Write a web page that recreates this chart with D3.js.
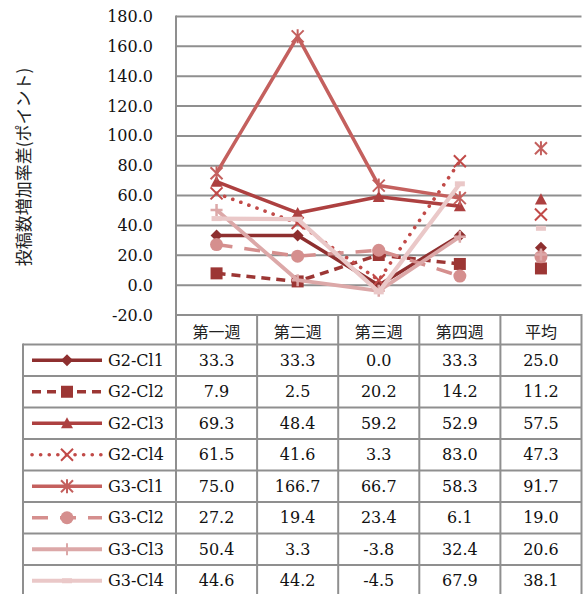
<!DOCTYPE html>
<html>
<head>
<meta charset="utf-8">
<script src="https://cdn.jsdelivr.net/npm/d3@7"></script>
<style>
  html, body { margin: 0; padding: 0; background: #fff; }
  svg { display: block; }
</style>
</head>
<body>
<svg id="chart" width="584" height="594"></svg>
<script>
// Weekly categories plus the overall average column
const categories = ["第一週", "第二週", "第三週", "第四週", "平均"];

// Difference in post-count growth rate (points) per group/class
const g2cl1 = [33.3, 33.3, 0.0, 33.3, 25.0];
const g2cl2 = [7.9, 2.5, 20.2, 14.2, 11.2];
const g2cl3 = [69.3, 48.4, 59.2, 52.9, 57.5];
const g2cl4 = [61.5, 41.6, 3.3, 83.0, 47.3];
const g3cl1 = [75.0, 166.7, 66.7, 58.3, 91.7];
const g3cl2 = [27.2, 19.4, 23.4, 6.1, 19.0];
const g3cl3 = [50.4, 3.3, -3.8, 32.4, 20.6];
const g3cl4 = [44.6, 44.2, -4.5, 67.9, 38.1];

const seriesNames = ["G2-Cl1", "G2-Cl2", "G2-Cl3", "G2-Cl4", "G3-Cl1", "G3-Cl2", "G3-Cl3", "G3-Cl4"];
const seriesValues = [g2cl1, g2cl2, g2cl3, g2cl4, g3cl1, g3cl2, g3cl3, g3cl4];

// Y axis ticks
const yTicks = [-20, 0, 20, 40, 60, 80, 100, 120, 140, 160, 180];
const yTitle = "投稿数増加率差(ポイント)";

// Visual style per series: colour, dash pattern, marker shape
const styles = [
  { color: "#8e2f2f", dash: null,     width: 3.5, marker: "diamond" },
  { color: "#9c3634", dash: "9 6",    width: 3.5, marker: "square" },
  { color: "#ad4040", dash: null,     width: 3.5, marker: "triangle" },
  { color: "#c14a48", dash: "0.1 8.5", width: 3.6, marker: "x", cap: "round" },
  { color: "#c4605e", dash: null,     width: 3.5, marker: "star" },
  { color: "#d58f8e", dash: "16 12",  width: 3.5, marker: "circle" },
  { color: "#dca8a8", dash: null,     width: 3.8, marker: "plus" },
  { color: "#eac8c8", dash: null,     width: 4.2, marker: "dash" }
];

const NUM_FONT = "'DejaVu Serif', 'Liberation Serif', serif";
const JP_FONT = "'Noto Sans CJK JP', sans-serif";

const svg = d3.select("#chart");

const plotLeft = 176, plotRight = 581.5;
const plotTop = 16.5, plotBottom = 315;
const tableLeft = 23;
const headerBottom = 344.5, rowH = 31.5;
const gridColor = "#8f8f8f";

const x = d3.scaleBand().domain(categories).range([plotLeft, plotRight]);
const y = d3.scaleLinear().domain([-20, 180]).range([plotBottom, plotTop]);
const cx = c => x(c) + x.bandwidth() / 2;

function numText(sel) {
  return sel.style("font-family", NUM_FONT).style("font-size", "16px").attr("fill", "#111");
}
function jpText(sel, size) {
  return sel.style("font-family", JP_FONT).style("font-size", size + "px").attr("fill", "#222");
}

// Horizontal gridlines
svg.append("g").selectAll("line").data(yTicks).join("line")
  .attr("x1", plotLeft).attr("x2", plotRight)
  .attr("y1", d => y(d)).attr("y2", d => y(d))
  .attr("stroke", gridColor).attr("stroke-width", 2);

// Tick labels
svg.append("g").selectAll("text").data(yTicks).join("text")
  .call(numText)
  .attr("x", 153).attr("y", d => y(d))
  .attr("text-anchor", "end").attr("dominant-baseline", "central")
  .text(d => d.toFixed(1));

// Axis title (vertical)
svg.append("text")
  .call(jpText, 17)
  .attr("transform", "translate(30,167) rotate(-90)")
  .attr("text-anchor", "middle")
  .text(yTitle);

// Data table grid
const nRows = seriesNames.length;
const tableBottom = headerBottom + nRows * rowH;
const tg = svg.append("g").attr("stroke", gridColor).attr("stroke-width", 2);
tg.append("line").attr("x1", plotLeft).attr("x2", plotRight).attr("y1", plotBottom).attr("y2", plotBottom);
d3.range(nRows + 1).forEach(i => {
  const yy = headerBottom + i * rowH;
  tg.append("line").attr("x1", tableLeft).attr("x2", plotRight).attr("y1", yy).attr("y2", yy);
});
tg.append("line").attr("x1", tableLeft).attr("x2", tableLeft).attr("y1", headerBottom - 1).attr("y2", tableBottom);
tg.append("line").attr("x1", plotLeft).attr("x2", plotLeft).attr("y1", plotTop - 1).attr("y2", tableBottom);
categories.forEach(c => {
  const xr = x(c) + x.bandwidth();
  tg.append("line").attr("x1", xr).attr("x2", xr).attr("y1", plotBottom - 1).attr("y2", tableBottom);
});

// Column headers
svg.append("g").selectAll("text").data(categories).join("text")
  .call(jpText, 16)
  .attr("x", d => cx(d)).attr("y", (plotBottom + headerBottom) / 2 + 1)
  .attr("text-anchor", "middle").attr("dominant-baseline", "central")
  .text(d => d);

// Marker path builders (centred at 0,0)
function markerPath(kind, s) {
  const h = s / 2;
  switch (kind) {
    case "diamond": return `M0,${-h}L${h},0L0,${h}L${-h},0Z`;
    case "square": return `M${-h},${-h}H${h}V${h}H${-h}Z`;
    case "triangle": return `M0,${-h}L${h},${h * 0.85}L${-h},${h * 0.85}Z`;
    case "x": return `M${-h},${-h}L${h},${h}M${h},${-h}L${-h},${h}`;
    case "star": return `M${-h},${-h}L${h},${h}M${h},${-h}L${-h},${h}M0,${-h - 1}V${h + 1}`;
    case "plus": return `M${-h},0H${h}M0,${-h}V${h}`;
    default: return null;
  }
}

function drawMarker(g, st, px, py, size) {
  const k = st.marker;
  if (k === "circle") {
    g.append("circle").attr("cx", px).attr("cy", py).attr("r", size / 2 + 0.5).attr("fill", st.color);
  } else if (k === "dash") {
    g.append("rect").attr("x", px - 5).attr("y", py - 2.5).attr("width", 10).attr("height", 5).attr("fill", st.color);
  } else if (k === "x" || k === "star" || k === "plus") {
    g.append("path").attr("d", markerPath(k, size)).attr("transform", `translate(${px},${py})`)
      .attr("fill", "none").attr("stroke", st.color).attr("stroke-width", k === "plus" ? 2.5 : 2);
  } else {
    g.append("path").attr("d", markerPath(k, size)).attr("transform", `translate(${px},${py})`)
      .attr("fill", st.color);
  }
}

// Series: lines over the four weeks, markers on every category
const line = d3.line().x(d => cx(d.c)).y(d => y(d.v));
const plot = svg.append("g");
seriesValues.forEach((vals, i) => {
  const st = styles[i];
  const pts = vals.map((v, j) => ({ c: categories[j], v }));
  const g = plot.append("g");
  const p = g.append("path")
    .datum(pts.slice(0, 4))
    .attr("d", line)
    .attr("fill", "none")
    .attr("stroke", st.color)
    .attr("stroke-width", st.width)
    .attr("stroke-linejoin", "round");
  if (st.dash) p.attr("stroke-dasharray", st.dash);
  if (st.cap) p.attr("stroke-linecap", st.cap);
  pts.forEach(d => drawMarker(g, st, cx(d.c), y(d.v), 12));
});

// Table rows: legend key, name, values
const keyX1 = 32, keyX2 = 102, keyMid = 67;
seriesNames.forEach((name, i) => {
  const st = styles[i];
  const rowY = headerBottom + (i + 0.5) * rowH;
  const g = svg.append("g");
  const kl = g.append("line").attr("x1", keyX1).attr("x2", keyX2).attr("y1", rowY).attr("y2", rowY)
    .attr("stroke", st.color).attr("stroke-width", st.width);
  if (st.dash) kl.attr("stroke-dasharray", st.dash);
  if (st.cap) kl.attr("stroke-linecap", st.cap);
  if (st.marker === "dash") {
    g.append("rect").attr("x", keyMid - 5).attr("y", rowY - 2.5).attr("width", 10).attr("height", 5).attr("fill", st.color);
  } else if (st.marker === "plus") {
    g.append("line").attr("x1", keyMid).attr("x2", keyMid).attr("y1", rowY - 6).attr("y2", rowY + 6)
      .attr("stroke", st.color).attr("stroke-width", 2);
  } else {
    drawMarker(g, st, keyMid, rowY, 12);
  }
  g.append("text").call(numText)
    .attr("x", 108).attr("y", rowY)
    .attr("dominant-baseline", "central")
    .text(name);
  g.selectAll("text.val").data(seriesValues[i]).join("text")
    .attr("class", "val")
    .call(numText)
    .attr("x", (d, j) => cx(categories[j])).attr("y", rowY)
    .attr("text-anchor", "middle").attr("dominant-baseline", "central")
    .text(d => d.toFixed(1));
});
</script>
</body>
</html>
